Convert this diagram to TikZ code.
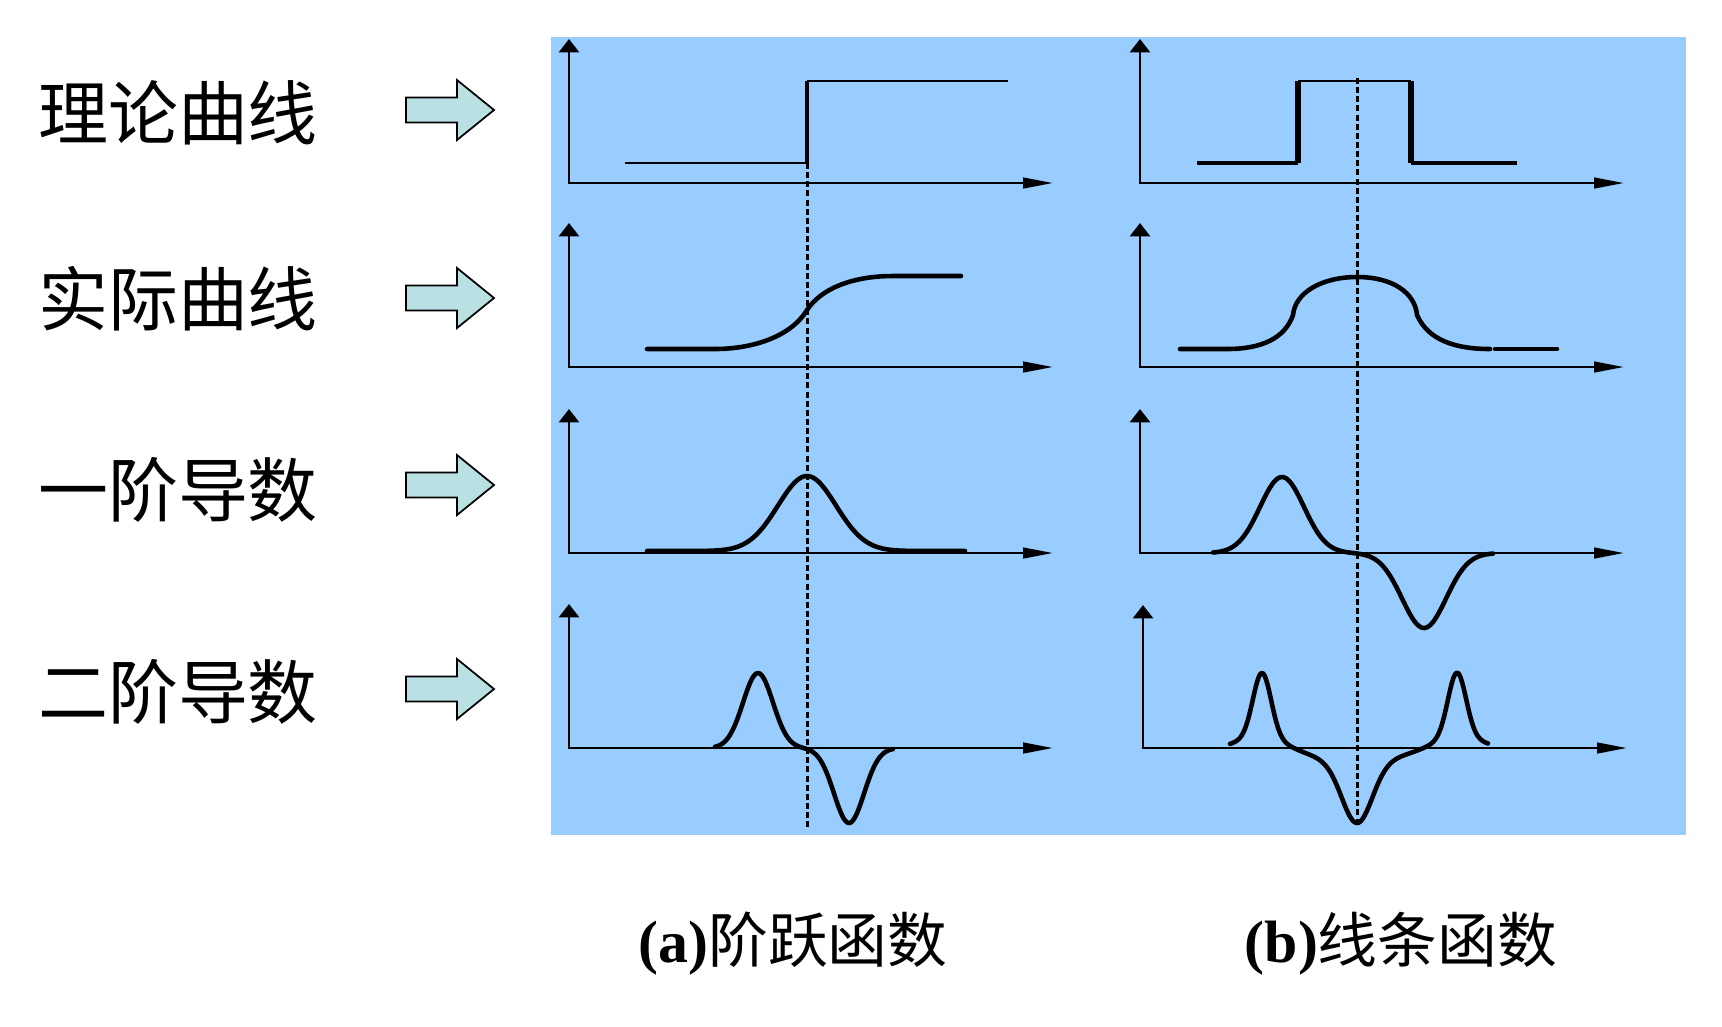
\documentclass[tikz,border=0pt]{standalone}
\usepackage{fontspec}
\setmainfont{Liberation Serif}
\newfontfamily\cjk{Noto Sans CJK SC}
\usepackage{tikz}
\usetikzlibrary{arrows.meta}
\definecolor{skyblue}{HTML}{99CCFF}
\definecolor{paleteal}{HTML}{B9E0E2}
\tikzset{
  axes/.style={line width=0.75pt, {Triangle[length=3.8pt, width=5.7pt]}-{Triangle[length=8.5pt, width=3pt]}},
  thinline/.style={line width=0.6pt},
  edgeline/.style={line width=1.5pt},
  curve/.style={line width=1.3pt, line join=round, line cap=round},
  guide/.style={line width=0.85pt, dash pattern=on 1.7pt off 0.9pt},
  blockarrow/.style={draw=black, fill=paleteal, line width=0.5pt},
  rowlabel/.style={font=\cjk\fontsize{19.9pt}{24pt}\selectfont, inner sep=0pt},
  caption/.style={font=\fontsize{17pt}{20pt}\selectfont, inner sep=0pt},
  declare function={gau(\r)=exp(max(-9,-0.5*(\r)*(\r)));}
}
\begin{document}
\begin{tikzpicture}[x=0.01cm, y=-0.01cm]
  \useasboundingbox[fill=white] (0,0) rectangle (1722,1026);
  \fill[skyblue] (551,37) rectangle (1686,835);

  \foreach \name/\y/\ay/\txt in {Theory/113/110/理论曲线, Real/299/298/实际曲线, First/490/485/一阶导数, Second/692/689/二阶导数} {
    \node[rowlabel] (lbl\name) at (178,\y) {\txt};
    \draw[blockarrow] (406,\ay-12.5) -- (457,\ay-12.5) -- (457,\ay-30) -- (494,\ay)
      -- (457,\ay+30) -- (457,\ay+12.5) -- (406,\ay+12.5) -- cycle;
  }

  % axes of both columns
  \foreach \base/\top in {183/39, 367/223, 553/409} {
    \draw[axes] (569,\top) -- (569,\base) -- (1053,\base);
    \draw[axes] (1140,\top) -- (1140,\base) -- (1624,\base);
  }
  \draw[axes] (569,604) -- (569,748) -- (1053,748);
  \draw[axes] (1143,605) -- (1143,748) -- (1627,748);

  % (a) step
  \draw[thinline] (625,163) -- (807,163);
  \draw[line width=0.9pt] (807,163) -- (807,81);
  \draw[thinline] (807,81) -- (1008,81);
  \draw[curve] (647,349) -- (715,349) .. controls (750,349) and (790,338) .. (807,310)
    .. controls (820,290) and (850,276) .. (893,276) -- (961,276);
  \draw[curve] plot[domain=647:965, samples=120] (\x, {551-75*gau((\x-807)/29)});
  \draw[curve] plot[domain=715:893, samples=120]
    (\x, {748-75*gau((\x-758)/15)+75*gau((\x-849)/15)});
  \draw[guide] (807,163) -- (807,827);

  % (b) line
  \draw[line width=0.9pt] (1197,163) -- (1298,163);
  \draw[edgeline] (1298,163) -- (1298,81);
  \draw[thinline] (1298,81) -- (1411,81);
  \draw[edgeline] (1411,81) -- (1411,163);
  \draw[line width=0.9pt] (1411,163) -- (1517,163);
  \draw[curve] (1180,349) -- (1227,349) .. controls (1262,349) and (1285,338) .. (1293,315)
    .. controls (1295,293) and (1321,277) .. (1357,277)
    .. controls (1393,277) and (1415,293) .. (1417,315)
    .. controls (1428,340) and (1455,349) .. (1490,349);
  \draw[curve] (1495,349) -- (1557,349);
  \draw[curve] plot[domain=1213:1493, samples=140]
    (\x, {553-76*gau((\x-1282)/22)+75*gau((\x-1424)/22)});
  \draw[curve] plot[domain=1230:1488, samples=180]
    (\x, {748-64*gau((\x-1262)/9)-12*gau((\x-1262)/22)-64*gau((\x-1457)/9)-12*gau((\x-1457)/22)+60*gau((\x-1357)/15)+15*gau((\x-1357)/40)});
  \draw[guide] (1357,78) -- (1357,827);

  \node[caption] (capStep) at (793,944) {\textbf{(a)}{\cjk 阶跃函数}};
  \node[caption] (capLine) at (1401,944) {\textbf{(b)}{\cjk 线条函数}};
\end{tikzpicture}
\end{document}
